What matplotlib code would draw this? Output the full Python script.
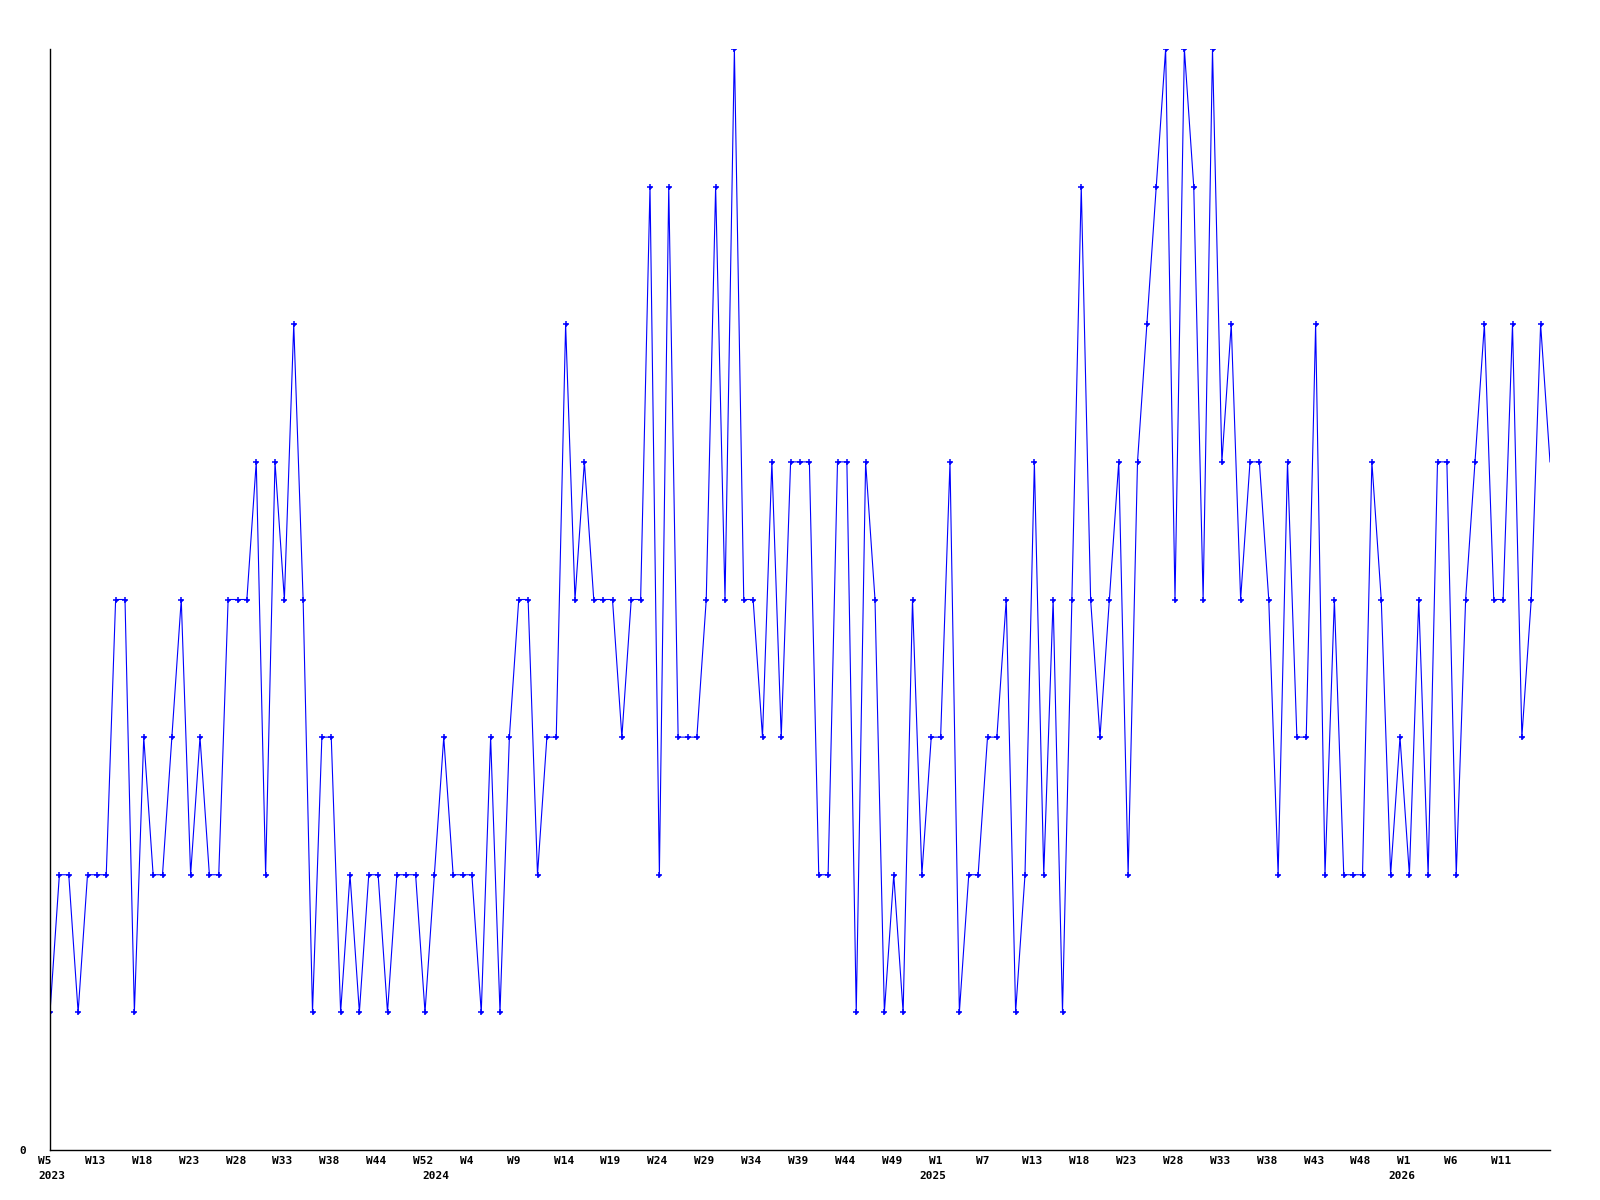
import numpy as np
import matplotlib
matplotlib.use("Agg")
import matplotlib.pyplot as plt
from matplotlib.transforms import ScaledTranslation

# weekly values, 161 points
valores = [1, 2, 2, 1, 2, 2, 2, 4, 4, 1, 3, 2, 2, 3, 4, 2, 3, 2, 2, 4,
           4, 4, 5, 2, 5, 4, 6, 4, 1, 3, 3, 1, 2, 1, 2, 2, 1, 2, 2, 2,
           1, 2, 3, 2, 2, 2, 1, 3, 1, 3, 4, 4, 2, 3, 3, 6, 4, 5, 4, 4,
           4, 3, 4, 4, 7, 2, 7, 3, 3, 3, 4, 7, 4, 8, 4, 4, 3, 5, 3, 5,
           5, 5, 2, 2, 5, 5, 1, 5, 4, 1, 2, 1, 4, 2, 3, 3, 5, 1, 2, 2,
           3, 3, 4, 1, 2, 5, 2, 4, 1, 4, 7, 4, 3, 4, 5, 2, 5, 6, 7, 8,
           4, 8, 7, 4, 8, 5, 6, 4, 5, 5, 4, 2, 5, 3, 3, 6, 2, 4, 2, 2,
           2, 5, 4, 2, 3, 2, 4, 2, 5, 5, 2, 4, 5, 6, 4, 4, 6, 3, 4, 6, 5]

semanas = ["W5", "W13", "W18", "W23", "W28", "W33", "W38", "W44", "W52", "W4",
           "W9", "W14", "W19", "W24", "W29", "W34", "W39", "W44", "W49", "W1",
           "W7", "W13", "W18", "W23", "W28", "W33", "W38", "W43", "W48", "W1",
           "W6", "W11"]
anios = ["2023", "2024", "2025", "2026"]
pos_anios = [0, 41, 94, 144]

x = np.arange(len(valores))

fig = plt.figure(figsize=(16, 12), dpi=100)
ax = fig.add_axes([50 / 1600, 1 - 1150 / 1200, 1500 / 1600, 1101 / 1200])

ax.plot(x, valores, color="#0000ff", lw=0.8)
# marcadores: cruz chica con punto al centro (sin el ultimo punto)
ax.plot(x[:-1], valores[:-1], ls="none", color="#0000ff", marker="+",
        ms=5, mew=1.1)
ax.plot(x[:-1], valores[:-1], ls="none", color="#0000ff", marker="o",
        ms=2.2, mew=0)

ax.set_xlim(0, len(valores) - 1)
ax.set_ylim(0, 8)

for s in ["top", "right"]:
    ax.spines[s].set_visible(False)
for s in ["left", "bottom"]:
    ax.spines[s].set_linewidth(1.0)
    ax.spines[s].set_color("black")

fuente = dict(family="DejaVu Sans Mono", size=8, weight="bold")

ax.set_yticks([0])
ax.set_yticklabels(["0"], **fuente)
ax.tick_params(axis="y", length=0, pad=17)

ticks = x[::5][:len(semanas)]
ax.set_xticks(ticks)
ax.set_xticklabels(semanas, ha="left", **fuente)
ax.tick_params(axis="x", length=0, pad=4)
desplaza = ScaledTranslation(-12 / 100, 0, fig.dpi_scale_trans)
for lab in ax.get_xticklabels():
    lab.set_transform(lab.get_transform() + desplaza)

trans = ax.get_xaxis_transform() + desplaza
for p, a in zip(pos_anios, anios):
    ax.text(p, -0.019, a, transform=trans, ha="left", va="top", **fuente)

fig.savefig("out.png", dpi=100)
